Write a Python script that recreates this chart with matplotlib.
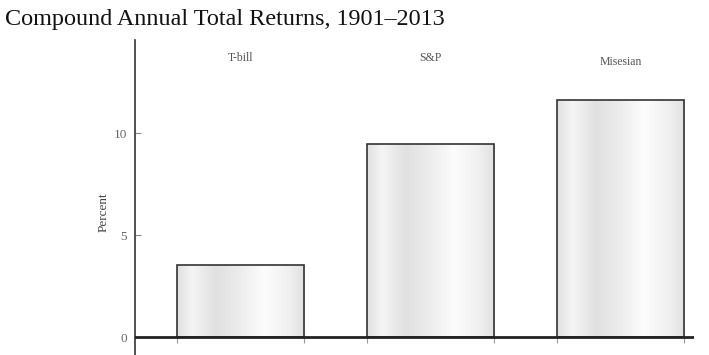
import numpy as np
import matplotlib
matplotlib.use("Agg")
import matplotlib.pyplot as plt
from matplotlib.colors import LinearSegmentedColormap

categories = ["T-bill", "S&P", "Misesian"]
values = [3.55, 9.45, 11.6]
yticks = [0, 5, 10]
title = "Compound Annual Total Returns, 1901\u20132013"

plt.rcParams['font.family'] = ['Liberation Serif', 'DejaVu Serif']

fig = plt.figure(figsize=(7.09, 3.55), dpi=100)
ax = fig.add_axes([135/709, 0.0, (694-135)/709, (355-40)/355])

x = np.arange(len(categories))
width = 0.67

# gradient colormap (cylindrical shading)
stops = [(0.0, 0.88), (0.12, 0.96), (0.3, 0.88), (0.5, 0.93), (0.68, 0.99), (0.88, 0.94), (1.0, 0.88)]
cmap = LinearSegmentedColormap.from_list(
    "shade", [(p, (g, g, g)) for p, g in stops])
grad = np.linspace(0, 1, 256).reshape(1, -1)

bars = ax.bar(x, values, width=width, facecolor='none', edgecolor='#333333',
              linewidth=1.2, zorder=3)
for b in bars:
    x0, y0 = b.get_x(), b.get_y()
    w, h = b.get_width(), b.get_height()
    im = ax.imshow(grad, cmap=cmap, aspect='auto', extent=[x0, x0 + w, y0, y0 + h],
                   zorder=2, interpolation='bicubic')
    im.set_clip_path(b)
ax.set_xlim(-0.555, 2.387)
ax.set_ylim(-0.88, 14.56)

ax.axhline(0, color='#222222', linewidth=2.0, zorder=4)

for xi, name in zip(x, categories):
    yy = 13.5 if name == "Misesian" else 13.7
    ax.text(xi, yy, name, ha='center', va='center', fontsize=8.5, color='#555555')

for s in ['top', 'right']:
    ax.spines[s].set_visible(False)
ax.spines['bottom'].set_position(('data', 0))
ax.spines['bottom'].set_visible(False)
ax.spines['left'].set_color('#333333')
ax.spines['left'].set_linewidth(1.2)

edges = []
for xi in x:
    edges += [xi - width / 2, xi + width / 2]
ax.set_xticks(edges)
ax.set_xticklabels([])
ax.tick_params(axis='x', direction='inout', length=8, width=0.8, color='#999999')

ax.set_yticks(yticks)
ax.set_yticklabels([str(t) for t in yticks], fontsize=9.5, color='#666666')
ax.tick_params(axis='y', direction='in', length=4, width=0.8, color='#888888', pad=6)
ax.set_ylabel("Percent", fontsize=9.5, color='#444444')
ax.yaxis.set_label_coords(-0.046, 0.454)

fig.text(5/709, 1 - 20/355, title, fontsize=17.4, ha='left', va='center', color='#111111')

fig.savefig("out.png", dpi=100, facecolor='white')
